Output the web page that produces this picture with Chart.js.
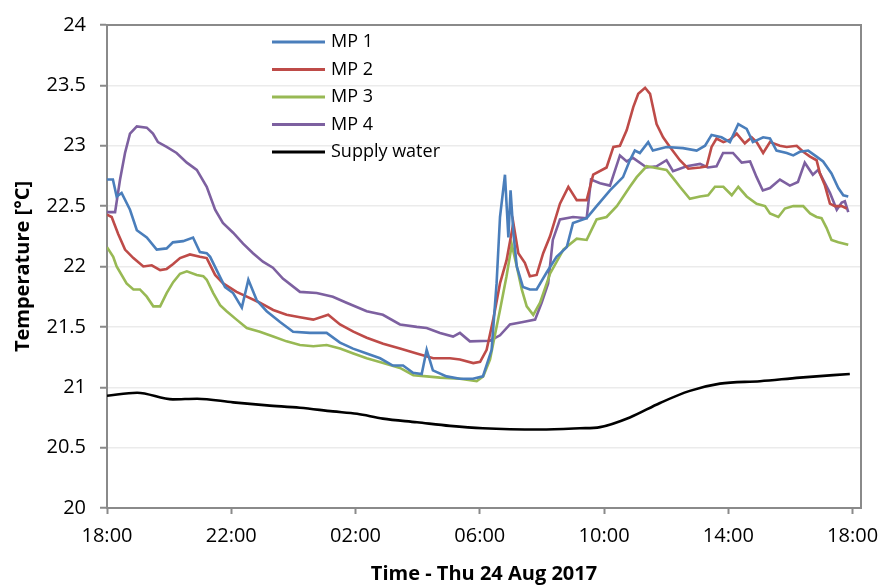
<!DOCTYPE html>
<html>
<head>
<meta charset="utf-8">
<script src="https://cdn.jsdelivr.net/npm/chart.js@4.4.1/dist/chart.umd.min.js"></script>
<style>
  html, body { margin: 0; padding: 0; background: #fff; }
  canvas { display: block; }
</style>
</head>
<body>
<canvas id="tempChart" width="882" height="586"></canvas>
<script>
// time axis: hours since 18:00 on the evening before
const tickHours = [0, 4, 8, 12, 16, 20, 24];
const tickLabels = ["18:00", "22:00", "02:00", "06:00", "10:00", "14:00", "18:00"];

const mp1Hours = [0, 0.19, 0.31, 0.47, 0.74, 0.96, 1.28, 1.6, 1.92, 2.12, 2.45, 2.77, 2.99, 3.21, 3.32, 3.53, 3.8, 4.06, 4.34, 4.55, 4.82, 5.14, 5.57, 5.99, 6.53, 7.07, 7.5, 7.92, 8.36, 8.79, 9.2, 9.53, 9.85, 10.13, 10.29, 10.49, 10.93, 11.36, 11.78, 12.1, 12.38, 12.54, 12.65, 12.81, 12.92, 12.99, 13.08, 13.19, 13.39, 13.61, 13.83, 14.15, 14.47, 14.8, 15.0, 15.44, 15.76, 16.19, 16.61, 16.83, 16.99, 17.15, 17.42, 17.57, 18.01, 18.54, 18.98, 19.25, 19.46, 19.78, 20.05, 20.32, 20.59, 20.79, 21.12, 21.34, 21.55, 21.88, 22.09, 22.3, 22.57, 22.84, 23.05, 23.32, 23.54, 23.7, 23.86];
const mp1Temps = [22.72, 22.72, 22.58, 22.61, 22.47, 22.3, 22.24, 22.14, 22.15, 22.2, 22.21, 22.24, 22.12, 22.11, 22.08, 21.97, 21.83, 21.78, 21.66, 21.89, 21.72, 21.63, 21.54, 21.46, 21.45, 21.45, 21.37, 21.32, 21.28, 21.24, 21.18, 21.18, 21.12, 21.11, 21.31, 21.14, 21.09, 21.07, 21.07, 21.09, 21.31, 21.86, 22.41, 22.76, 22.24, 22.63, 22.28, 22.0, 21.83, 21.81, 21.81, 21.95, 22.08, 22.16, 22.36, 22.4, 22.5, 22.63, 22.74, 22.88, 22.96, 22.94, 23.03, 22.96, 22.99, 22.98, 22.96, 23.0, 23.09, 23.07, 23.03, 23.18, 23.14, 23.03, 23.07, 23.06, 22.96, 22.94, 22.92, 22.95, 22.96, 22.91, 22.87, 22.77, 22.65, 22.59, 22.58];

const mp2Hours = [0, 0.15, 0.36, 0.58, 0.85, 1.17, 1.44, 1.71, 1.92, 2.13, 2.35, 2.67, 2.99, 3.21, 3.48, 3.74, 4.17, 4.5, 4.92, 5.35, 5.78, 6.21, 6.64, 7.12, 7.5, 7.93, 8.36, 8.89, 9.43, 9.97, 10.5, 11.04, 11.36, 11.79, 12.01, 12.22, 12.43, 12.65, 12.86, 13.08, 13.24, 13.45, 13.61, 13.83, 14.04, 14.26, 14.58, 14.85, 15.12, 15.44, 15.65, 16.08, 16.3, 16.51, 16.73, 16.94, 17.1, 17.32, 17.48, 17.69, 17.9, 18.12, 18.44, 18.71, 19.09, 19.3, 19.46, 19.62, 19.84, 20.05, 20.27, 20.53, 20.75, 20.91, 21.12, 21.34, 21.66, 21.88, 22.2, 22.41, 22.63, 22.84, 22.95, 23.11, 23.27, 23.43, 23.65, 23.81];
const mp2Temps = [22.43, 22.41, 22.27, 22.14, 22.07, 22.0, 22.01, 21.97, 21.98, 22.02, 22.07, 22.1, 22.08, 22.07, 21.93, 21.86, 21.79, 21.75, 21.7, 21.64, 21.6, 21.58, 21.56, 21.6, 21.52, 21.46, 21.41, 21.36, 21.32, 21.28, 21.24, 21.24, 21.23, 21.2, 21.21, 21.31, 21.56, 21.86, 22.05, 22.36, 22.11, 22.03, 21.92, 21.93, 22.11, 22.25, 22.52, 22.66, 22.55, 22.55, 22.76, 22.82, 22.99, 23.0, 23.13, 23.32, 23.43, 23.48, 23.43, 23.18, 23.07, 22.99, 22.88, 22.81, 22.82, 22.83, 22.99, 23.06, 23.03, 23.05, 23.1, 23.02, 23.07, 23.03, 22.94, 23.03, 23.0, 22.99, 23.0, 22.95, 22.91, 22.88, 22.77, 22.67, 22.52, 22.5, 22.5, 22.48];

const mp3Hours = [0, 0.2, 0.31, 0.63, 0.85, 1.06, 1.28, 1.49, 1.71, 1.92, 2.13, 2.35, 2.57, 2.89, 3.1, 3.21, 3.42, 3.64, 3.85, 4.17, 4.5, 4.92, 5.35, 5.78, 6.21, 6.64, 7.07, 7.5, 7.93, 8.36, 8.89, 9.43, 9.86, 10.29, 10.72, 11.36, 11.9, 12.11, 12.33, 12.43, 12.65, 12.86, 13.03, 13.19, 13.35, 13.51, 13.72, 13.94, 14.26, 14.69, 15.12, 15.44, 15.76, 16.08, 16.41, 16.83, 17.05, 17.37, 17.8, 18.01, 18.23, 18.44, 18.76, 19.09, 19.35, 19.57, 19.84, 20.11, 20.32, 20.59, 20.91, 21.18, 21.34, 21.61, 21.82, 22.09, 22.41, 22.63, 22.84, 23.0, 23.16, 23.32, 23.54, 23.86];
const mp3Temps = [22.16, 22.08, 22.0, 21.86, 21.81, 21.81, 21.75, 21.67, 21.67, 21.78, 21.87, 21.94, 21.96, 21.93, 21.92, 21.89, 21.78, 21.68, 21.63, 21.56, 21.49, 21.46, 21.42, 21.38, 21.35, 21.34, 21.35, 21.32, 21.28, 21.24, 21.2, 21.16, 21.1, 21.09, 21.08, 21.07, 21.05, 21.09, 21.23, 21.36, 21.64, 21.92, 22.18, 22.0, 21.81, 21.67, 21.6, 21.7, 21.94, 22.14, 22.23, 22.22, 22.39, 22.41, 22.5, 22.66, 22.74, 22.83, 22.81, 22.8, 22.73, 22.66, 22.56, 22.58, 22.59, 22.66, 22.66, 22.59, 22.66, 22.58, 22.52, 22.5, 22.44, 22.41, 22.48, 22.5, 22.5, 22.44, 22.41, 22.4, 22.32, 22.22, 22.2, 22.18];

const mp4Hours = [0, 0.26, 0.42, 0.58, 0.74, 0.96, 1.28, 1.48, 1.64, 1.92, 2.24, 2.57, 2.89, 3.21, 3.48, 3.73, 4.06, 4.38, 4.7, 5.02, 5.34, 5.66, 6.21, 6.75, 7.27, 7.71, 8.36, 8.88, 9.43, 9.97, 10.29, 10.72, 11.14, 11.36, 11.68, 12.33, 12.65, 12.97, 13.39, 13.78, 13.99, 14.2, 14.35, 14.58, 15.0, 15.44, 15.58, 15.87, 16.19, 16.51, 16.73, 16.93, 17.37, 17.69, 18.01, 18.22, 18.66, 19.09, 19.34, 19.62, 19.83, 20.15, 20.43, 20.7, 20.91, 21.11, 21.34, 21.66, 21.98, 22.24, 22.46, 22.72, 22.89, 23.05, 23.27, 23.49, 23.65, 23.75, 23.86];
const mp4Temps = [22.45, 22.45, 22.72, 22.94, 23.1, 23.16, 23.15, 23.1, 23.03, 22.99, 22.94, 22.86, 22.8, 22.66, 22.47, 22.36, 22.28, 22.19, 22.11, 22.04, 21.99, 21.9, 21.79, 21.78, 21.75, 21.7, 21.63, 21.6, 21.52, 21.5, 21.49, 21.45, 21.42, 21.45, 21.38, 21.385, 21.43, 21.52, 21.54, 21.56, 21.7, 21.86, 22.22, 22.39, 22.41, 22.4, 22.72, 22.69, 22.67, 22.92, 22.87, 22.9, 22.82, 22.83, 22.88, 22.79, 22.83, 22.85, 22.82, 22.83, 22.94, 22.94, 22.86, 22.87, 22.74, 22.63, 22.65, 22.72, 22.67, 22.7, 22.86, 22.76, 22.8, 22.72, 22.61, 22.47, 22.53, 22.54, 22.45];

const supplyHours = [0, 0.97, 2.12, 2.9, 4.06, 5.15, 6.21, 7.27, 8.05, 8.88, 9.98, 11.04, 12.1, 13.94, 15.22, 15.87, 16.83, 17.8, 18.76, 19.73, 21.02, 22.3, 23.91];
const supplyTemps = [20.93, 20.955, 20.9, 20.905, 20.875, 20.85, 20.83, 20.8, 20.78, 20.74, 20.71, 20.68, 20.66, 20.65, 20.66, 20.67, 20.75, 20.87, 20.97, 21.03, 21.05, 21.08, 21.11];

const FONT = '"Open Sans", "DejaVu Sans", sans-serif';
const AXIS_GREY = "#8a8a8a";

function points(hours, temps) {
    return hours.map((h, i) => ({ x: h, y: temps[i] }));
}

// grey frame along the top and right of the plot
const plotFrame = {
    id: "plotFrame",
    beforeDatasetsDraw(chart) {
        const { ctx, chartArea: a } = chart;
        ctx.save();
        ctx.strokeStyle = AXIS_GREY;
        ctx.lineWidth = 2;
        ctx.beginPath();
        ctx.moveTo(a.left, a.top);
        ctx.lineTo(a.right, a.top);
        ctx.lineTo(a.right, a.bottom);
        ctx.stroke();
        ctx.restore();
    },
};

// legend sits inside the plot, stacked vertically
const insideLegend = {
    id: "insideLegend",
    afterDraw(chart) {
        const ctx = chart.ctx;
        ctx.save();
        ctx.font = "18px " + FONT;
        ctx.textBaseline = "middle";
        ctx.textAlign = "left";
        chart.data.datasets.forEach((ds, i) => {
            const y = 42 + i * 27.5;
            ctx.strokeStyle = ds.borderColor;
            ctx.lineWidth = 3;
            ctx.beginPath();
            ctx.moveTo(272, y);
            ctx.lineTo(325, y);
            ctx.stroke();
            ctx.fillStyle = "#000";
            ctx.fillText(ds.label, 331, y);
        });
        ctx.restore();
    },
};

const series = (label, color, data) => ({
    label,
    data,
    borderColor: color,
    backgroundColor: color,
    borderWidth: 2.6,
    pointRadius: 0,
    tension: 0,
    fill: false,
});

new Chart(document.getElementById("tempChart"), {
    type: "line",
    data: {
        datasets: [
            series("MP 1", "#4a7ebb", points(mp1Hours, mp1Temps)),
            series("MP 2", "#be4b48", points(mp2Hours, mp2Temps)),
            series("MP 3", "#98b954", points(mp3Hours, mp3Temps)),
            series("MP 4", "#7d60a0", points(mp4Hours, mp4Temps)),
            Object.assign(series("Supply water", "#000000", points(supplyHours, supplyTemps)), {
                cubicInterpolationMode: "monotone",
            }),
        ],
    },
    options: {
        responsive: false,
        animation: false,
        layout: { padding: { top: 25, right: 21, left: 0, bottom: 0 } },
        plugins: {
            legend: { display: false },
            tooltip: { enabled: false },
        },
        scales: {
            x: {
                type: "linear",
                min: 0,
                max: 24.27,
                afterBuildTicks: (scale) => {
                    scale.ticks = tickHours.map((v) => ({ value: v }));
                },
                afterFit: (scale) => {
                    scale.height = 78;
                    scale.paddingLeft = 0;
                    scale.paddingRight = 0;
                },
                grid: {
                    drawOnChartArea: false,
                    drawTicks: true,
                    tickLength: 6,
                    tickColor: AXIS_GREY,
                    tickWidth: 2,
                },
                border: { display: true, color: AXIS_GREY, width: 2 },
                ticks: {
                    color: "#000",
                    font: { family: FONT, size: 20 },
                    padding: 10,
                    maxRotation: 0,
                    autoSkip: false,
                    callback: (v, i) => tickLabels[i],
                },
                title: {
                    display: true,
                    text: "Time - Thu 24 Aug 2017",
                    color: "#000",
                    font: { family: FONT, size: 20, weight: "bold" },
                    padding: { top: 0, bottom: 0 },
                },
            },
            y: {
                min: 20,
                max: 24,
                afterFit: (scale) => {
                    scale.width = 107;
                    scale.paddingTop = 0;
                    scale.paddingBottom = 0;
                },
                grid: {
                    color: "#ebebeb",
                    lineWidth: 1.5,
                    drawTicks: true,
                    tickLength: 7,
                    tickColor: AXIS_GREY,
                    tickWidth: 2,
                },
                border: { display: true, color: AXIS_GREY, width: 2 },
                ticks: {
                    stepSize: 0.5,
                    color: "#000",
                    font: { family: FONT, size: 20 },
                    padding: 14,
                    callback: (v) => String(v),
                },
                title: {
                    display: true,
                    text: "Temperature [°C]",
                    color: "#000",
                    font: { family: FONT, size: 20, weight: "bold" },
                    padding: { top: 11, bottom: 0 },
                },
            },
        },
    },
    plugins: [plotFrame, insideLegend],
});
</script>
</body>
</html>
